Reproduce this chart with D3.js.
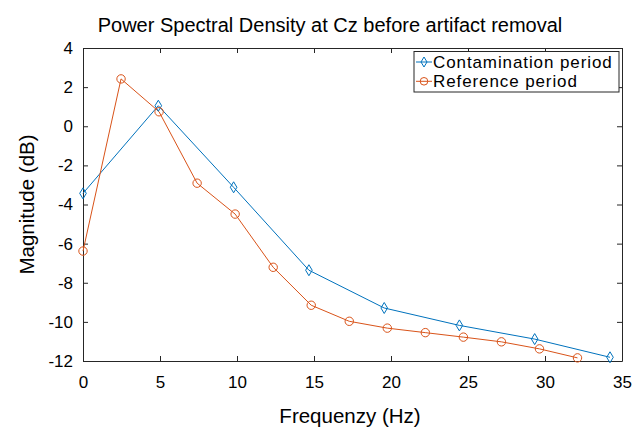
<!DOCTYPE html>
<html>
<head>
<meta charset="utf-8">
<script src="https://cdn.jsdelivr.net/npm/d3@7"></script>
<style>
  body { margin: 0; background: #fff; }
  svg { font-family: "Liberation Sans", Arial, Helvetica, sans-serif; }
</style>
</head>
<body>
<div id="container"></div>
<script>
const contFreq = [0, 4.89, 9.78, 14.67, 19.56, 24.44, 29.33, 34.22];
const contMag = [-3.43, 1.05, -3.12, -7.36, -9.29, -10.18, -10.88, -11.81];

const refFreq = [0, 2.47, 4.94, 7.41, 9.88, 12.35, 14.82, 17.29, 19.76, 22.23, 24.7, 27.17, 29.64, 32.11];
const refMag = [-6.38, 2.42, 0.74, -2.91, -4.49, -7.21, -9.15, -9.97, -10.32, -10.55, -10.78, -11.02, -11.38, -11.84];

const xTicks = [0, 5, 10, 15, 20, 25, 30, 35];
const yTicks = [4, 2, 0, -2, -4, -6, -8, -10, -12];

const seriesNames = ["Contamination period", "Reference period"];
const colors = ["#0072BD", "#D95319"];

const width = 644;
const height = 427;
const margin = {top: 48, right: 22, bottom: 66, left: 83};

const x = d3.scaleLinear()
    .domain([0, 35])
    .range([margin.left, width - margin.right]);

const y = d3.scaleLinear()
    .domain([-12, 4])
    .range([height - margin.bottom, margin.top]);

const svg = d3.create("svg")
    .attr("width", width)
    .attr("height", height);

const axisColor = "#262626";
const tickLen = 5;

// axes with inward ticks, on all four sides
const axisBottomG = svg.append("g")
    .attr("transform", `translate(0,${y(-12)})`)
    .call(d3.axisBottom(x).tickValues(xTicks).tickSizeInner(-tickLen).tickSizeOuter(0).tickPadding(15));
const axisTopG = svg.append("g")
    .attr("transform", `translate(0,${y(4)})`)
    .call(d3.axisTop(x).tickValues(xTicks).tickSizeInner(-tickLen).tickSizeOuter(0).tickFormat(""));
const axisLeftG = svg.append("g")
    .attr("transform", `translate(${x(0)},0)`)
    .call(d3.axisLeft(y).tickValues(yTicks).tickSizeInner(-tickLen).tickSizeOuter(0).tickPadding(10)
        .tickFormat(d => d < 0 ? "-" + Math.abs(d) : d));
const axisRightG = svg.append("g")
    .attr("transform", `translate(${x(35)},0)`)
    .call(d3.axisRight(y).tickValues(yTicks).tickSizeInner(-tickLen).tickSizeOuter(0).tickFormat(""));

[axisBottomG, axisTopG, axisLeftG, axisRightG].forEach(g => {
  g.select(".domain").attr("stroke", axisColor);
  g.selectAll(".tick line").attr("stroke", axisColor);
  g.selectAll(".tick text").attr("fill", "#000").attr("font-size", 17)
    .attr("font-family", "Liberation Sans, Arial, sans-serif");
});

// lines
const line = d3.line().x(d => x(d[0])).y(d => y(d[1]));
const contData = contFreq.map((f, i) => [f, contMag[i]]);
const refData = refFreq.map((f, i) => [f, refMag[i]]);

svg.append("path").datum(contData)
    .attr("fill", "none").attr("stroke", colors[0]).attr("stroke-width", 1).attr("d", line);
svg.append("path").datum(refData)
    .attr("fill", "none").attr("stroke", colors[1]).attr("stroke-width", 1).attr("d", line);

const diamond = (cx, cy, r) => `M${cx},${cy - r}L${cx + r * 0.6},${cy}L${cx},${cy + r}L${cx - r * 0.6},${cy}Z`;

svg.append("g").selectAll("path").data(contData).join("path")
    .attr("d", d => diamond(x(d[0]), y(d[1]), 5.5))
    .attr("fill", "none").attr("stroke", colors[0]).attr("stroke-width", 1);

svg.append("g").selectAll("circle").data(refData).join("circle")
    .attr("cx", d => x(d[0])).attr("cy", d => y(d[1])).attr("r", 4.2)
    .attr("fill", "none").attr("stroke", colors[1]).attr("stroke-width", 1);

// title and labels
svg.append("text")
    .attr("x", 330).attr("y", 31.5)
    .attr("text-anchor", "middle").attr("font-size", 20)
    .text("Power Spectral Density at Cz before artifact removal");

svg.append("text")
    .attr("x", 350).attr("y", 423)
    .attr("text-anchor", "middle").attr("font-size", 20.5)
    .text("Frequenzy (Hz)");

svg.append("text")
    .attr("transform", `translate(34,${(y(4) + y(-12)) / 2}) rotate(-90)`)
    .attr("text-anchor", "middle").attr("font-size", 20.5)
    .text("Magnitude (dB)");

// legend
const legend = svg.append("g");
legend.append("rect")
    .attr("x", 414).attr("y", 51.5).attr("width", 205).attr("height", 40.5)
    .attr("fill", "#fff").attr("stroke", axisColor).attr("stroke-width", 1);

seriesNames.forEach((name, i) => {
  const ly = 62 + i * 19.3;
  legend.append("line")
      .attr("x1", 416).attr("x2", 432).attr("y1", ly).attr("y2", ly)
      .attr("stroke", colors[i]).attr("stroke-width", 1);
  if (i === 0) {
    legend.append("path").attr("d", diamond(424, ly, 5))
        .attr("fill", "none").attr("stroke", colors[i]);
  } else {
    legend.append("circle").attr("cx", 424).attr("cy", ly).attr("r", 3.8)
        .attr("fill", "none").attr("stroke", colors[i]);
  }
  legend.append("text")
      .attr("x", 433).attr("y", ly + 6)
      .attr("font-size", 17)
      .attr("letter-spacing", 0.9)
      .text(name);
});

document.getElementById("container").append(svg.node());
</script>
</body>
</html>
